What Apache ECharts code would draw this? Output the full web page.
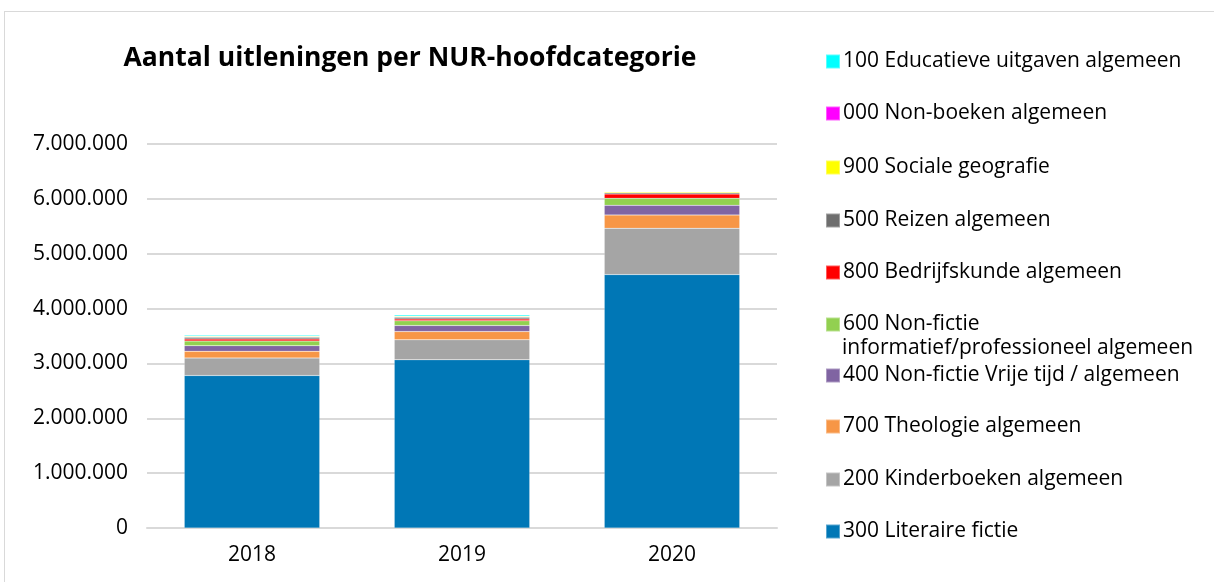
<!DOCTYPE html>
<html>
<head>
<meta charset="utf-8">
<script src="https://cdn.jsdelivr.net/npm/echarts@6/dist/echarts.min.js"></script>
<style>
  html, body { margin: 0; padding: 0; background: #fff; }
  #frame { position: absolute; left: 4px; top: 11px; width: 1300px; height: 700px; border: 1px solid #d9d9d9; }
  #chart { position: absolute; left: 0; top: 0; width: 1214px; height: 582px; }
</style>
</head>
<body>
<div id="frame"></div>
<div id="chart"></div>
<script>
// years on the x axis
const years = ['2018', '2019', '2020']

// series in stack order, bottom to top
const seriesNames = [
  '300 Literaire fictie',
  '200 Kinderboeken algemeen',
  '700 Theologie algemeen',
  '400 Non-fictie Vrije tijd / algemeen',
  '600 Non-fictie informatief/professioneel algemeen',
  '800 Bedrijfskunde algemeen',
  '500 Reizen algemeen',
  '900 Sociale geografie',
  '000 Non-boeken algemeen',
  '100 Educatieve uitgaven algemeen',
]
const seriesColors = ['#0077b6', '#a5a5a5', '#f79646', '#8064a2', '#92d050', '#ff0000', '#6e6e6e', '#ffff00', '#ff00ff', '#00ffff']

// values per series, 2018 / 2019 / 2020
const lit = [2780000, 3067000, 4620000]
const kinder = [320000, 364000, 843000]
const theo = [120000, 150000, 243000]
const vrijeTijd = [104000, 110000, 176000]
const informatief = [85000, 85000, 127000]
const bedrijf = [36000, 36000, 79000]
const reizen = [30000, 30000, 25000]
const sociaal = [15000, 15000, 18000]
const nonBoeken = [8000, 8000, 8000]
const educatief = [22000, 22000, 11000]
const seriesValues = [lit, kinder, theo, vrijeTijd, informatief, bedrijf, reizen, sociaal, nonBoeken, educatief]

const yTicks = { min: 0, max: 7000000, interval: 1000000 }

const fmt = v => String(v).replace(/\B(?=(\d{3})+(?!\d))/g, '.')

const FONT = '"Open Sans", Lato, sans-serif'

const chart = echarts.init(document.getElementById('chart'))

// legend order top to bottom (reverse of the stack), with its vertical slots
const legendOrder = seriesNames.slice().reverse()
const legendTops = [46, 98, 152, 205, 257, 309, 360, 411, 464, 516]

chart.setOption({
  backgroundColor: 'transparent',
  animation: false,
  textStyle: { fontFamily: FONT },
  title: {
    text: 'Aantal uitleningen per NUR-hoofdcategorie',
    left: 405, top: 40, textAlign: 'center',
    textStyle: { fontSize: 26.5, fontWeight: 'bold', color: '#000', fontFamily: FONT },
  },
  legend: legendOrder.map((name, i) => ({
    data: [name],
    left: 820, top: legendTops[i],
    orient: 'vertical',
    icon: 'rect', itemWidth: 14, itemHeight: 14, itemGap: 8,
    selectedMode: false,
    formatter: n => n.startsWith('600') ? '600 Non-fictie' : n,
    textStyle: { fontSize: 21, color: '#000', fontFamily: FONT, padding: [0, 0, 0, -2] },
  })),
  graphic: [{
    type: 'text', left: 842, top: 338,
    style: { text: 'informatief/professioneel algemeen', fontSize: 21, fill: '#000', fontFamily: FONT },
  }],
  grid: { left: 147, right: 437, top: 144, bottom: 54 },
  xAxis: {
    type: 'category', data: years,
    axisLine: { lineStyle: { color: '#d9d9d9', width: 2 } },
    axisTick: { show: false },
    axisLabel: { color: '#000', fontSize: 21, margin: 17, fontFamily: FONT },
  },
  yAxis: {
    type: 'value', min: yTicks.min, max: yTicks.max, interval: yTicks.interval,
    axisLine: { show: false }, axisTick: { show: false },
    splitLine: { lineStyle: { color: '#d9d9d9', width: 2 } },
    axisLabel: { color: '#000', fontSize: 21, margin: 19, formatter: fmt, fontFamily: FONT },
  },
  series: seriesNames.map((name, i) => ({
    name, type: 'bar', stack: 'total',
    data: seriesValues[i],
    barWidth: '64.5%',
    itemStyle: { color: seriesColors[i], borderColor: 'rgba(255,255,255,0.35)', borderWidth: 0.5 },
  })),
})
</script>
</body>
</html>
